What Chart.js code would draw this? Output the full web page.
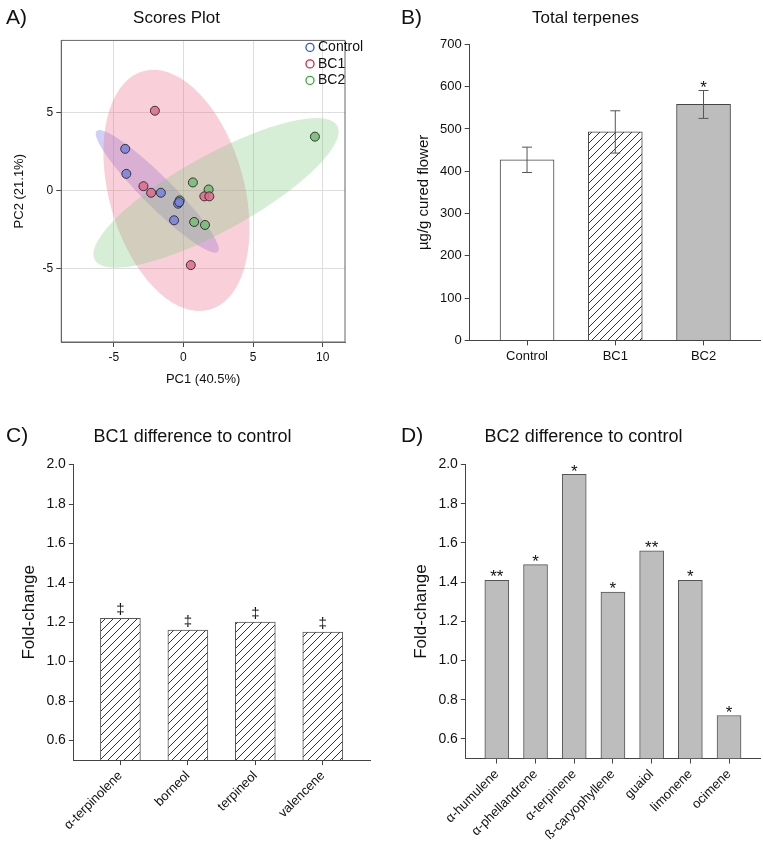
<!DOCTYPE html>
<html>
<head>
<meta charset="utf-8">
<script src="https://cdn.jsdelivr.net/npm/chart.js@4.4.1/dist/chart.umd.min.js"></script>
<style>
  body { margin: 0; background: #fff; font-family: "Liberation Sans", Arial, sans-serif; }
  .box { position: absolute; }
  .letter { position: absolute; font-size: 21px; color: #111; }
</style>
</head>
<body>
<div class="box" style="left:0;top:0;width:380px;height:400px"><canvas id="pca"></canvas></div>
<div class="box" style="left:380px;top:0;width:383px;height:400px"><canvas id="total"></canvas></div>
<div class="box" style="left:0;top:420px;width:380px;height:430px"><canvas id="bc1"></canvas></div>
<div class="box" style="left:380px;top:420px;width:383px;height:430px"><canvas id="bc2"></canvas></div>
<div class="letter" style="left:6px;top:5px">A)</div>
<div class="letter" style="left:401px;top:5px">B)</div>
<div class="letter" style="left:6px;top:423px">C)</div>
<div class="letter" style="left:401px;top:423px">D)</div>
<script>
// --- data ---
const controlPts = [[-4.18, 2.66], [-4.1, 1.06], [-1.62, -0.15], [-0.38, -0.85], [-0.3, -0.75], [-0.67, -1.91]];
const bc1Pts = [[-2.05, 5.1], [-2.87, 0.27], [-2.32, -0.15], [1.5, -0.38], [1.86, -0.38], [0.53, -4.78]];
const bc2Pts = [[9.44, 3.44], [0.68, 0.51], [1.81, 0.06], [-0.27, -0.64], [0.77, -2.02], [1.55, -2.21]];
// ellipse: centre, half axis u, half axis v (data units)
const controlEllipse = { c: [-1.88, -0.06], u: [4.35, -3.87], v: [0.77, 0.67] };
const bc1Ellipse = { c: [-0.5, 0.0], u: [2.35, -7.64], v: [4.69, 1.11] };
const bc2Ellipse = { c: [2.34, -0.16], u: [8.7, 4.3], v: [1.35, -2.11] };

const groups = ['Control', 'BC1', 'BC2'];
const totalMeans = [427, 493, 558];
const totalErr = [30, 50, 33];
const totalMarks = ['', '', '*'];

const bc1Labels = ['α-terpinolene', 'borneol', 'terpineol', 'valencene'];
const bc1Fold = [1.22, 1.16, 1.20, 1.15];
const bc1Marks = ['‡', '‡', '‡', '‡'];

const bc2Labels = ['α-humulene', 'α-phellandrene', 'α-terpinene', 'ß-caryophyllene', 'guaiol', 'limonene', 'ocimene'];
const bc2Fold = [1.41, 1.49, 1.95, 1.35, 1.56, 1.41, 0.72];
const bc2Marks = ['**', '*', '*', '*', '**', '*', '*'];

const FONT = '"Liberation Sans", Arial, sans-serif';
Chart.defaults.font.family = FONT;
Chart.defaults.color = '#111';
Chart.defaults.animation = false;

function hatch() {
  const c = document.createElement('canvas');
  c.width = 8; c.height = 8;
  const g = c.getContext('2d');
  g.fillStyle = '#fff'; g.fillRect(0, 0, 8, 8);
  g.strokeStyle = '#333'; g.lineWidth = 1;
  g.beginPath();
  g.moveTo(0, 8); g.lineTo(8, 0);
  g.moveTo(-4, 4); g.lineTo(4, -4);
  g.moveTo(4, 12); g.lineTo(12, 4);
  g.stroke();
  return g.createPattern(c, 'repeat');
}

// ellipses behind the points, frame and legend
const pcaPlugin = {
  id: 'pcaExtras',
  beforeDatasetsDraw(chart) {
    const { ctx, chartArea, scales } = chart;
    ctx.save();
    ctx.beginPath();
    ctx.rect(chartArea.left, chartArea.top, chartArea.width, chartArea.height);
    ctx.clip();
    chart.data.datasets.forEach(ds => {
      const e = ds.ellipse;
      ctx.beginPath();
      for (let i = 0; i <= 72; i++) {
        const t = i / 72 * Math.PI * 2;
        const x = e.c[0] + e.u[0] * Math.cos(t) + e.v[0] * Math.sin(t);
        const y = e.c[1] + e.u[1] * Math.cos(t) + e.v[1] * Math.sin(t);
        const px = scales.x.getPixelForValue(x), py = scales.y.getPixelForValue(y);
        if (i === 0) ctx.moveTo(px, py); else ctx.lineTo(px, py);
      }
      ctx.fillStyle = ds.ellipseColor;
      ctx.fill();
    });
    ctx.restore();
  },
  afterDraw(chart) {
    const { ctx, chartArea } = chart;
    ctx.save();
    ctx.strokeStyle = '#666'; ctx.lineWidth = 1;
    ctx.strokeRect(chartArea.left, chartArea.top, chartArea.width, chartArea.height);
    ctx.font = '14px ' + FONT;
    ctx.textBaseline = 'middle';
    chart.data.datasets.forEach((ds, i) => {
      const y = chartArea.top + 7 + i * 16.5;
      const x = chartArea.right - 35;
      ctx.beginPath();
      ctx.arc(x, y, 4, 0, Math.PI * 2);
      ctx.strokeStyle = ds.legendColor; ctx.lineWidth = 1.3;
      ctx.stroke();
      ctx.fillStyle = '#111';
      ctx.fillText(ds.label, x + 8, y);
    });
    ctx.restore();
  }
};

// error bars + significance marks
const marksPlugin = {
  id: 'marks',
  afterDatasetsDraw(chart) {
    const { ctx } = chart;
    const ds = chart.data.datasets[0];
    const meta = chart.getDatasetMeta(0);
    const y = chart.scales.y;
    ctx.save();
    meta.data.forEach((bar, i) => {
      let top = bar.y;
      if (ds.errors) {
        const hi = y.getPixelForValue(ds.data[i].y + ds.errors[i]);
        const lo = y.getPixelForValue(ds.data[i].y - ds.errors[i]);
        ctx.strokeStyle = '#555'; ctx.lineWidth = 1;
        ctx.beginPath();
        ctx.moveTo(bar.x, hi); ctx.lineTo(bar.x, lo);
        ctx.moveTo(bar.x - 5, hi); ctx.lineTo(bar.x + 5, hi);
        ctx.moveTo(bar.x - 5, lo); ctx.lineTo(bar.x + 5, lo);
        ctx.stroke();
        top = hi;
      }
      if (ds.marks && ds.marks[i]) {
        ctx.fillStyle = '#111';
        ctx.font = (ds.marks[i] === '‡' ? '15px ' : '17px ') + FONT;
        ctx.textAlign = 'center';
        ctx.textBaseline = 'bottom';
        ctx.fillText(ds.marks[i], bar.x, top + (ds.marks[i] === '‡' ? -1 : 6));
      }
    });
    ctx.restore();
  }
};

function axisStyle(extra) {
  return Object.assign({
    grid: { display: true, drawOnChartArea: false, drawTicks: true, tickLength: 5, color: '#444', offset: false },
    border: { display: true, color: '#444' },
    ticks: { font: { size: 13 }, color: '#111' }
  }, extra);
}

// category axis on a linear scale so the side gaps can match
function catAxis(labels, min, max, rotate) {
  return axisStyle({
    type: 'linear', min: min, max: max, offset: false, bounds: 'data',
    afterBuildTicks: s => { s.ticks = labels.map((l, i) => ({ value: i })); },
    ticks: { font: { size: 13 }, color: '#111', autoSkip: false,
      maxRotation: rotate ? 45 : 0, minRotation: rotate ? 45 : 0,
      callback: (v, i) => labels[i] }
  });
}

function indexed(values) { return values.map((v, i) => ({ x: i, y: v })); }

// A) scores plot
new Chart(document.getElementById('pca'), {
  type: 'scatter',
  data: {
    datasets: [
      { label: 'Control', data: controlPts.map(p => ({ x: p[0], y: p[1] })), ellipse: controlEllipse,
        ellipseColor: 'rgba(110,110,225,0.32)', borderColor: '#333', backgroundColor: 'rgba(120,130,225,0.85)', legendColor: '#3355dd' },
      { label: 'BC1', data: bc1Pts.map(p => ({ x: p[0], y: p[1] })), ellipse: bc1Ellipse,
        ellipseColor: 'rgba(235,110,140,0.32)', borderColor: '#333', backgroundColor: 'rgba(225,105,140,0.85)', legendColor: '#dd2244' },
      { label: 'BC2', data: bc2Pts.map(p => ({ x: p[0], y: p[1] })), ellipse: bc2Ellipse,
        ellipseColor: 'rgba(120,200,120,0.3)', borderColor: '#333', backgroundColor: 'rgba(120,190,120,0.9)', legendColor: '#33aa33' }
    ]
  },
  options: {
    responsive: true, maintainAspectRatio: false,
    layout: { padding: { left: 8, right: 35, top: 4, bottom: 9 } },
    elements: { point: { radius: 4.5, borderWidth: 1 } },
    plugins: {
      title: { display: true, text: 'Scores Plot', font: { size: 17, weight: 'normal' }, padding: { top: 4, bottom: 12 } },
      legend: { display: false },
      tooltip: { enabled: false }
    },
    scales: {
      x: { min: -8.77, max: 11.6, title: { display: true, text: 'PC1 (40.5%)', font: { size: 13 } },
        afterBuildTicks: s => { s.ticks = [-5, 0, 5, 10].map(v => ({ value: v })); },
        grid: { color: '#ddd', tickLength: 5, tickColor: '#444' }, border: { color: '#666' },
        ticks: { font: { size: 12 }, color: '#111' } },
      y: { min: -9.7, max: 9.6, title: { display: true, text: 'PC2 (21.1%)', font: { size: 13 }, padding: { bottom: 12 } },
        afterBuildTicks: s => { s.ticks = [-5, 0, 5].map(v => ({ value: v })); },
        grid: { color: '#ddd', tickLength: 5, tickColor: '#444' }, border: { color: '#666' },
        ticks: { font: { size: 12 }, color: '#111' } }
    }
  },
  plugins: [pcaPlugin]
});

// B) total terpenes
new Chart(document.getElementById('total'), {
  type: 'bar',
  data: {
    datasets: [{ data: indexed(totalMeans), errors: totalErr, marks: totalMarks,
      backgroundColor: ['#fff', hatch(), '#bdbdbd'], borderColor: '#444', borderWidth: 1,
      barThickness: 54 }]
  },
  options: {
    responsive: true, maintainAspectRatio: false,
    layout: { padding: { left: 31, right: 3, top: 4, bottom: 33 } },
    plugins: {
      title: { display: true, text: 'Total terpenes', font: { size: 17, weight: 'normal' }, padding: { top: 4, bottom: 16 } },
      legend: { display: false }, tooltip: { enabled: false }
    },
    scales: {
      x: catAxis(groups, -0.65, 2.64, false),
      y: axisStyle({ min: 0, max: 700, ticks: { stepSize: 100, font: { size: 13 }, color: '#111' },
        title: { display: true, text: 'µg/g cured flower', font: { size: 15 } } })
    }
  },
  plugins: [marksPlugin]
});

function foldChart(id, labels, values, marks, fill, title, pad, min, max, thick) {
  new Chart(document.getElementById(id), {
    type: 'bar',
    data: {
      datasets: [{ data: indexed(values), marks: marks, backgroundColor: fill, borderColor: '#555', borderWidth: 1,
        barThickness: thick, base: 0.5 }]
    },
    options: {
      responsive: true, maintainAspectRatio: false,
      layout: { padding: pad },
      plugins: {
        title: { display: true, text: title, font: { size: 18, weight: 'normal' }, padding: { top: 2, bottom: 17 } },
        legend: { display: false }, tooltip: { enabled: false }
      },
      scales: {
        x: catAxis(labels, min, max, true),
        y: axisStyle({ min: 0.5, max: 2.0, afterBuildTicks: s => { s.ticks = [0.6, 0.8, 1.0, 1.2, 1.4, 1.6, 1.8, 2.0].map(v => ({ value: v })); },
          ticks: { font: { size: 14 }, color: '#111', callback: v => v.toFixed(1) },
          title: { display: true, text: 'Fold-change', font: { size: 17 } } })
      }
    },
    plugins: [marksPlugin]
  });
}

foldChart('bc1', bc1Labels, bc1Fold, bc1Marks, hatch(), 'BC1 difference to control',
  { left: 15, right: 10, top: 4, bottom: 14 }, -0.69, 3.7, 40);
foldChart('bc2', bc2Labels, bc2Fold, bc2Marks, '#bdbdbd', 'BC2 difference to control',
  { left: 27, right: 3, top: 4, bottom: 4 }, -0.8, 6.8, 24);
</script>
</body>
</html>
